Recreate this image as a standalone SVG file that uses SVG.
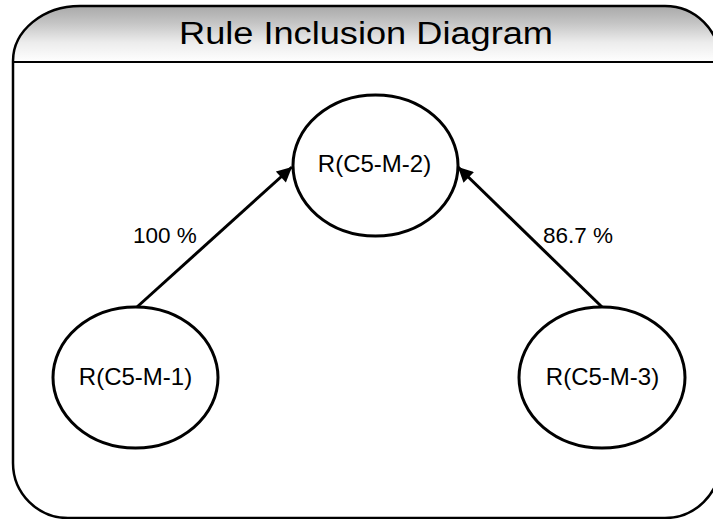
<svg xmlns="http://www.w3.org/2000/svg" width="713" height="519" viewBox="0 0 713 519">
  <style>
    .node ellipse { fill: #ffffff; stroke: #000000; stroke-width: 3; }
    .node text { font-family: "Liberation Sans", Arial, sans-serif; font-size: 24px; fill: #000000; text-anchor: middle; }
    .edge line { stroke: #000000; stroke-width: 3; }
    .edge-label { font-family: "Liberation Sans", Arial, sans-serif; font-size: 22.5px; fill: #000000; }
    .title { font-family: "Liberation Sans", Arial, sans-serif; font-size: 31px; fill: #000000; text-anchor: middle; }
  </style>
  <defs>
    <linearGradient id="headerFill" x1="0" y1="0" x2="0" y2="1">
      <stop offset="0" stop-color="#a9a9a9"/>
      <stop offset="0.3" stop-color="#c4c4c4"/>
      <stop offset="0.65" stop-color="#ececec"/>
      <stop offset="1" stop-color="#ffffff"/>
    </linearGradient>
    <clipPath id="frameClip">
      <path d="M13,61 A67,55 0 0 1 80,6 L665,6 A55,55 0 0 1 720,61 L720,463 A55,55 0 0 1 665,518 L68,518 A55,55 0 0 1 13,463 Z"/>
    </clipPath>
    <marker id="arrowhead" viewBox="0 0 10 10" refX="10" refY="5" markerWidth="6.5" markerHeight="5" markerUnits="strokeWidth" orient="auto">
      <path d="M0,0 L10,5 L0,10 z" fill="#000000"/>
    </marker>
  </defs>

  <!-- panel frame with shaded header band -->
  <g id="frame">
    <path d="M13,61 A67,55 0 0 1 80,6 L665,6 A55,55 0 0 1 720,61 L720,463 A55,55 0 0 1 665,518 L68,518 A55,55 0 0 1 13,463 Z" fill="#ffffff"/>
    <rect x="13" y="6" width="707" height="56" fill="url(#headerFill)" clip-path="url(#frameClip)"/>
    <line x1="13" y1="62" x2="720" y2="62" stroke="#000000" stroke-width="2"/>
    <path d="M13,61 A67,55 0 0 1 80,6 L665,6 A55,55 0 0 1 720,61 L720,463 A55,55 0 0 1 665,518 L68,518 A55,55 0 0 1 13,463 Z" fill="none" stroke="#000000" stroke-width="2.5"/>
    <text class="title" x="366" y="44" textLength="374" lengthAdjust="spacingAndGlyphs">Rule Inclusion Diagram</text>
  </g>

  <!-- inclusion edges -->
  <g id="edges" class="edge">
    <line x1="137" y1="307" x2="292" y2="167" marker-end="url(#arrowhead)"/>
    <line x1="602" y1="307" x2="458" y2="167" marker-end="url(#arrowhead)"/>
    <text class="edge-label" x="133" y="243">100 %</text>
    <text class="edge-label" x="543" y="243">86.7 %</text>
  </g>

  <!-- rule nodes -->
  <g id="node-m2" class="node">
    <ellipse cx="375.5" cy="165.5" rx="82.5" ry="70.5"/>
    <text x="374.5" y="172">R(C5-M-2)</text>
  </g>
  <g id="node-m1" class="node">
    <ellipse cx="135.5" cy="377.5" rx="82.5" ry="70.5"/>
    <text x="135.5" y="385">R(C5-M-1)</text>
  </g>
  <g id="node-m3" class="node">
    <ellipse cx="602" cy="377.5" rx="83" ry="70.5"/>
    <text x="602.5" y="385">R(C5-M-3)</text>
  </g>
</svg>
